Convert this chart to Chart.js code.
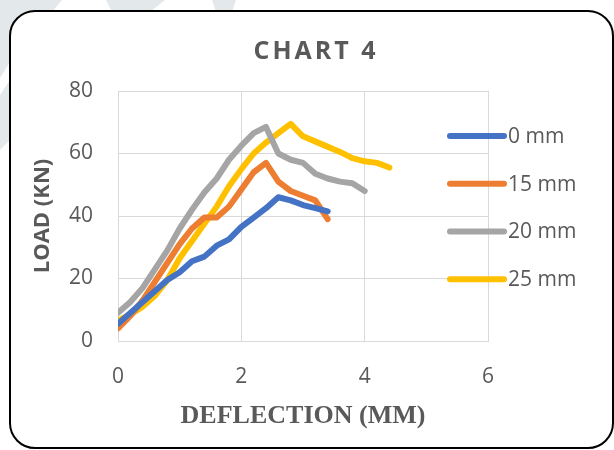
<!DOCTYPE html>
<html>
<head>
<meta charset="utf-8">
<script src="https://cdn.jsdelivr.net/npm/chart.js@4.4.1/dist/chart.umd.min.js"></script>
<style>
  html, body { margin: 0; padding: 0; background: #fff; }
  #wrap { position: relative; width: 614px; height: 450px; overflow: hidden; }
  #marks { position: absolute; left: 0; top: 0; }
  #frame {
    position: absolute; left: 9px; top: 10px; width: 605px; height: 439px;
    box-sizing: border-box; border: 2px solid #000; border-radius: 26px; background: #fff;
  }
  #chart { position: absolute; left: 0; top: 0; }
</style>
</head>
<body>
<div id="wrap">
  <svg id="marks" width="614" height="450">
    <polygon points="0,0 62,0 10,62 0,78" fill="#e3e8eb"/>
    <polygon points="0,95 10,80 10,140 0,150" fill="#e3e8eb"/>
    <polygon points="106,0 165,0 150,12 112,12" fill="#e3e8eb"/>
    <polygon points="212,0 236,0 232,12 216,12" fill="#e3e8eb"/>
  </svg>
  <div id="frame"></div>
  <canvas id="chart" width="614" height="450"></canvas>
</div>
<script>
// Load vs. deflection readings for each spacing
const seriesLabels = ['0 mm', '15 mm', '20 mm', '25 mm'];
const seriesColors = ['#4472C4', '#ED7D31', '#A5A5A5', '#FFC000'];

const defl0  = [0, 0.2, 0.4, 0.6, 0.8, 1.0, 1.2, 1.4, 1.6, 1.8, 2.0, 2.2, 2.4, 2.6, 2.8, 3.0, 3.2, 3.4];
const load0  = [5.5, 9, 12.5, 16, 19.5, 22, 25.5, 27, 30.5, 32.5, 36.5, 39.5, 42.5, 46, 45, 43.5, 42.5, 41.5];

const defl15 = [0, 0.2, 0.4, 0.6, 0.8, 1.0, 1.2, 1.4, 1.6, 1.8, 2.0, 2.2, 2.4, 2.6, 2.8, 3.0, 3.2, 3.4];
const load15 = [4, 8, 13, 19, 25, 31, 36, 39.5, 39.5, 43, 48.5, 54, 57, 51, 48, 46.5, 45, 39];

const defl20 = [0, 0.2, 0.4, 0.6, 0.8, 1.0, 1.2, 1.4, 1.6, 1.8, 2.0, 2.2, 2.4, 2.6, 2.8, 3.0, 3.2, 3.4, 3.6, 3.8, 4.0];
const load20 = [9, 12.5, 17, 23, 29, 36, 42, 47.5, 52, 58, 62.5, 66.5, 68.5, 60, 58, 57, 53.5, 52, 51, 50.5, 48];

const defl25 = [0, 0.2, 0.4, 0.6, 0.8, 1.0, 1.2, 1.4, 1.6, 1.8, 2.0, 2.2, 2.4, 2.6, 2.8, 3.0, 3.3, 3.6, 3.8, 4.0, 4.2, 4.4];
const load25 = [6.5, 8.5, 11, 14.5, 19.5, 26.5, 32, 37.5, 43, 49.5, 55, 60, 63.5, 66.5, 69.5, 65.5, 63, 60.5, 58.5, 57.5, 57, 55.5];

const xTicks = [0, 2, 4, 6];
const yTicks = [0, 20, 40, 60, 80];

const chartTitle = 'CHART 4';
const xTitle = 'DEFLECTION (MM)';
const yTitle = 'LOAD (KN)';

const textColor = '#595959';
const gridColor = '#D9D9D9';

function toPoints(xs, ys) {
  return xs.map((x, i) => ({ x: x, y: ys[i] }));
}

const allX = [defl0, defl15, defl20, defl25];
const allY = [load0, load15, load20, load25];

const datasets = seriesLabels.map((label, i) => ({
  label: label,
  data: toPoints(allX[i], allY[i]),
  borderColor: seriesColors[i],
  backgroundColor: seriesColors[i],
  borderWidth: 6,
  borderCapStyle: 'round',
  borderJoinStyle: 'round',
  pointRadius: 0,
  tension: 0,
  fill: false
}));

// Title and side legend drawn on top of the plot
const decorations = {
  id: 'decorations',
  afterDraw(chart) {
    const ctx = chart.ctx;
    ctx.save();
    ctx.fillStyle = textColor;
    ctx.textAlign = 'center';
    ctx.textBaseline = 'middle';
    ctx.font = 'bold 25px "Open Sans"';
    ctx.letterSpacing = '3px';
    ctx.fillText(chartTitle, 316, 52);
    ctx.letterSpacing = '0px';

    ctx.textAlign = 'left';
    ctx.font = '21px "Open Sans"';
    const rowY = [136, 183.7, 231.5, 279.2];
    chart.data.datasets.forEach((ds, i) => {
      const y = rowY[i];
      ctx.strokeStyle = ds.borderColor;
      ctx.lineWidth = 6;
      ctx.lineCap = 'round';
      ctx.beginPath();
      ctx.moveTo(450, y);
      ctx.lineTo(504, y);
      ctx.stroke();
      ctx.fillStyle = textColor;
      ctx.fillText(ds.label, 508, y + 1);
    });
    ctx.restore();
  }
};

new Chart(document.getElementById('chart'), {
  type: 'line',
  data: { datasets: datasets },
  options: {
    responsive: false,
    animation: false,
    layout: { padding: { left: 0, right: 126, top: 91, bottom: 0 } },
    plugins: {
      legend: { display: false },
      title: { display: false },
      tooltip: { enabled: false }
    },
    scales: {
      x: {
        type: 'linear',
        min: 0,
        max: 6,
        afterBuildTicks(scale) { scale.ticks = xTicks.map(v => ({ value: v })); },
        afterFit(scale) { scale.height = 109; },
        ticks: { color: textColor, font: { family: 'Open Sans', size: 21 }, padding: 23 },
        grid: { color: gridColor, lineWidth: 1, drawTicks: false },
        border: { color: gridColor, width: 1 },
        title: {
          display: true,
          text: xTitle,
          color: textColor,
          font: { family: 'Liberation Serif', weight: 'bold', size: 26 },
          padding: { top: 0, bottom: 18 }
        }
      },
      y: {
        type: 'linear',
        min: 0,
        max: 80,
        afterBuildTicks(scale) { scale.ticks = yTicks.map(v => ({ value: v })); },
        afterFit(scale) { scale.width = 118; },
        ticks: { color: textColor, font: { family: 'Open Sans', size: 21 }, padding: 25 },
        grid: { color: gridColor, lineWidth: 1, drawTicks: false },
        border: { color: gridColor, width: 1 },
        title: {
          display: true,
          text: yTitle,
          color: textColor,
          font: { family: 'Open Sans', weight: 'bold', size: 22 },
          padding: { top: 30, bottom: 0 }
        }
      }
    }
  },
  plugins: [decorations]
});
</script>
</body>
</html>
